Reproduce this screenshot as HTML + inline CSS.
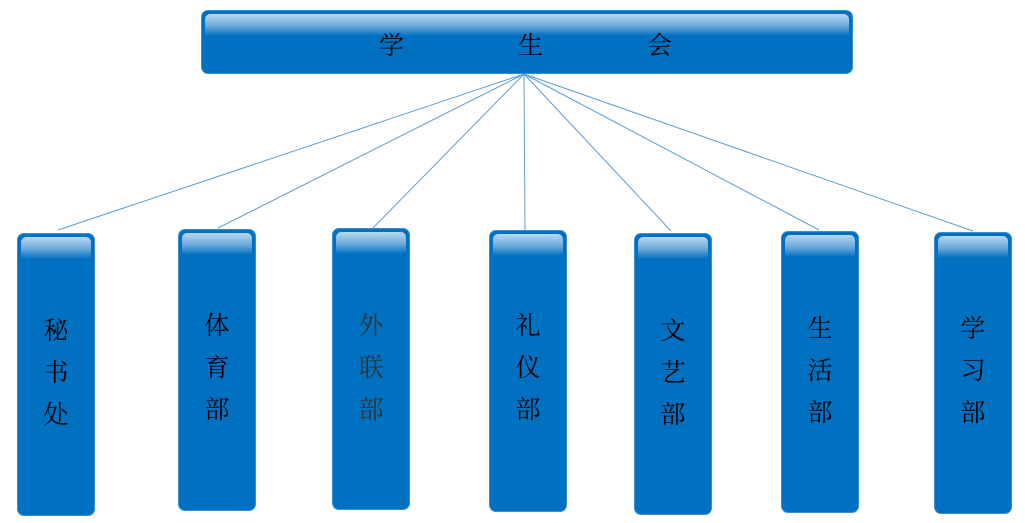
<!DOCTYPE html>
<html><head><meta charset="utf-8"><style>
body{margin:0;width:1025px;height:523px;background:#fff;position:relative;overflow:hidden;font-family:"Liberation Serif","Noto Serif CJK SC",serif;}
.b{position:absolute;background:#0070c0;border-radius:7px;box-sizing:border-box;border:1px solid #3a8fd0;}
.b::before{content:"";position:absolute;left:3px;right:3px;top:3px;height:22px;border-radius:5px 5px 0 0;background:linear-gradient(#b8d8f0,#6aa9dc 55%,#0070c0);}
.t{position:absolute;font-size:25px;color:#000;line-height:42px;width:40px;text-align:center;}
</style></head><body>
<svg width="1025" height="523" style="position:absolute;left:0;top:0">
<g stroke="#5b9bd5" stroke-width="1">
<line x1="524" y1="74" x2="58" y2="230"/>
<line x1="524" y1="74" x2="218" y2="228"/>
<line x1="524" y1="74" x2="373" y2="228"/>
<line x1="524" y1="74" x2="525" y2="230"/>
<line x1="524" y1="74" x2="671" y2="231"/>
<line x1="524" y1="74" x2="819" y2="230"/>
<line x1="524" y1="74" x2="973" y2="231"/>
</g></svg>
<div class="b" style="left:201px;top:10px;width:652px;height:64px"></div>
<div style="position:absolute;top:26px;left:0;font-size:25px;font-family:'Liberation Serif','Noto Serif CJK SC',serif">
<span style="position:absolute;left:379px">学</span><span style="position:absolute;left:518px">生</span><span style="position:absolute;left:647px">会</span></div>
<div class="b" style="left:17px;top:233px;width:78px;height:283px"></div>
<div class="b" style="left:178px;top:229px;width:78px;height:282px"></div>
<div class="b" style="left:332px;top:228px;width:78px;height:282px"></div>
<div class="b" style="left:489px;top:230px;width:78px;height:282px"></div>
<div class="b" style="left:634px;top:233px;width:78px;height:282px"></div>
<div class="b" style="left:781px;top:231px;width:78px;height:282px"></div>
<div class="b" style="left:934px;top:232px;width:78px;height:282px"></div>
<div class="t" style="left:36px;top:311px">秘<br>书<br>处</div>
<div class="t" style="left:197px;top:306px">体<br>育<br>部</div>
<div class="t" style="left:351px;top:306px;color:#333">外<br>联<br>部</div>
<div class="t" style="left:508px;top:306px">礼<br>仪<br>部</div>
<div class="t" style="left:653px;top:311px">文<br>艺<br>部</div>
<div class="t" style="left:800px;top:309px">生<br>活<br>部</div>
<div class="t" style="left:953px;top:309px">学<br>习<br>部</div>
</body></html>
